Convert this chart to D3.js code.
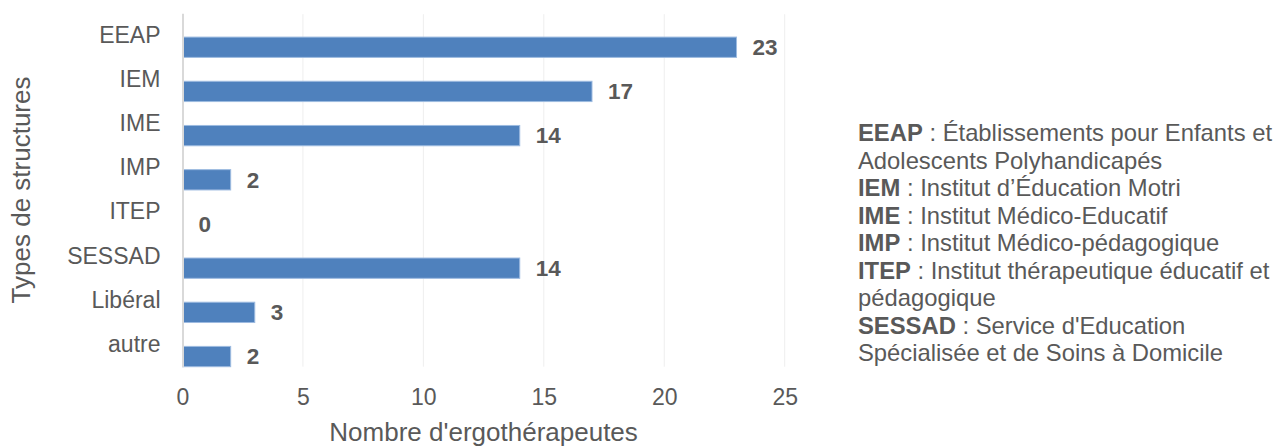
<!DOCTYPE html>
<html>
<head>
<meta charset="utf-8">
<script src="https://cdn.jsdelivr.net/npm/d3@7"></script>
<style>
  html, body { margin: 0; padding: 0; background: #ffffff; }
  svg { display: block; font-family: "Liberation Sans", Arial, sans-serif; }
</style>
</head>
<body>
<svg id="chart" width="1280" height="446"></svg>
<script>
// Structure types and number of occupational therapists per type
const categories = ["EEAP", "IEM", "IME", "IMP", "ITEP", "SESSAD", "Libéral", "autre"];
const values = [23, 17, 14, 2, 0, 14, 3, 2];
const xTicks = [0, 5, 10, 15, 20, 25];
const xTitle = "Nombre d'ergothérapeutes";
const yTitle = "Types de structures";

// Abbreviation key shown on the right
const legendLines = [
  { b: "EEAP", t: " : Établissements pour Enfants et" },
  { b: "", t: "Adolescents Polyhandicapés" },
  { b: "IEM", t: " : Institut d’Éducation Motri" },
  { b: "IME", t: " : Institut Médico-Educatif" },
  { b: "IMP", t: " : Institut Médico-pédagogique" },
  { b: "ITEP", t: " : Institut thérapeutique éducatif et" },
  { b: "", t: "pédagogique" },
  { b: "SESSAD", t: " : Service d'Education" },
  { b: "", t: "Spécialisée et de Soins à Domicile" }
];

const textColor = "#595959";
const barColor = "#4F81BD";

const svg = d3.select("#chart");

const plot = { left: 182.5, right: 784.7, top: 13.2, bottom: 366.7 };

const x = d3.scaleLinear().domain([0, 25]).range([plot.left, plot.right]);
const y = d3.scaleBand().domain(categories).range([plot.top, plot.bottom]);
// Each category slot holds two sub-slots; bars occupy the lower one
const ySub = d3.scaleBand().domain(["a", "b"]).range([0, y.bandwidth()]).paddingInner(0.15);

// Vertical gridlines
svg.append("g")
  .selectAll("line")
  .data(xTicks.filter(d => d > 0))
  .join("line")
  .attr("x1", d => x(d)).attr("x2", d => x(d))
  .attr("y1", plot.top + 1).attr("y2", plot.bottom)
  .attr("stroke", "#eeeeee")
  .attr("stroke-width", 1);

// Tick labels along the bottom
const xAxis = d3.axisBottom(x).tickValues(xTicks).tickSize(0).tickPadding(0);
const gx = svg.append("g")
  .attr("transform", `translate(0, ${plot.bottom})`)
  .call(xAxis);
gx.select(".domain").remove();
gx.selectAll("text")
  .attr("y", 38)
  .attr("dy", 0)
  .attr("fill", textColor)
  .style("font-size", "23px");

// Bars
svg.append("g")
  .selectAll("rect")
  .data(categories.map((c, i) => ({ c, v: values[i] })))
  .join("rect")
  .filter(d => d.v > 0)
  .attr("x", x(0))
  .attr("y", d => y(d.c) + ySub("b"))
  .attr("width", d => x(d.v) - x(0))
  .attr("height", ySub.bandwidth())
  .attr("fill", barColor)
  .attr("stroke", "#9dbbe0")
  .attr("stroke-width", 1);

// Vertical axis line with category labels
const yAxis = d3.axisLeft(y).tickSize(0).tickPadding(22);
const gy = svg.append("g")
  .attr("transform", `translate(${plot.left}, 0)`)
  .call(yAxis);
gy.select(".domain")
  .attr("stroke", "#d9d9d9")
  .attr("stroke-width", 2);
gy.selectAll("text")
  .attr("fill", textColor)
  .style("font-size", "23px");

// Value labels next to each bar
svg.append("g")
  .selectAll("text")
  .data(categories.map((c, i) => ({ c, v: values[i] })))
  .join("text")
  .attr("x", d => x(d.v) + 16)
  .attr("y", d => y(d.c) + ySub("b") + ySub.bandwidth() / 2)
  .attr("dy", "0.35em")
  .attr("fill", textColor)
  .style("font-size", "22.5px")
  .style("font-weight", "bold")
  .text(d => d.v);

// Axis titles
svg.append("text")
  .attr("x", (plot.left + plot.right) / 2)
  .attr("y", 441)
  .attr("text-anchor", "middle")
  .attr("fill", textColor)
  .style("font-size", "26px")
  .text(xTitle);

svg.append("text")
  .attr("transform", `translate(30, ${(plot.top + plot.bottom) / 2}) rotate(-90)`)
  .attr("text-anchor", "middle")
  .attr("fill", textColor)
  .style("font-size", "26px")
  .text(yTitle);

// Abbreviation key
const legend = svg.append("text")
  .attr("fill", textColor)
  .style("font-size", "23.8px");
legendLines.forEach((l, i) => {
  const line = legend.append("tspan")
    .attr("x", 858)
    .attr("y", 141 + i * 27.5);
  if (l.b) line.append("tspan").style("font-weight", "bold").text(l.b);
  line.append("tspan").text(l.t);
});
</script>
</body>
</html>
